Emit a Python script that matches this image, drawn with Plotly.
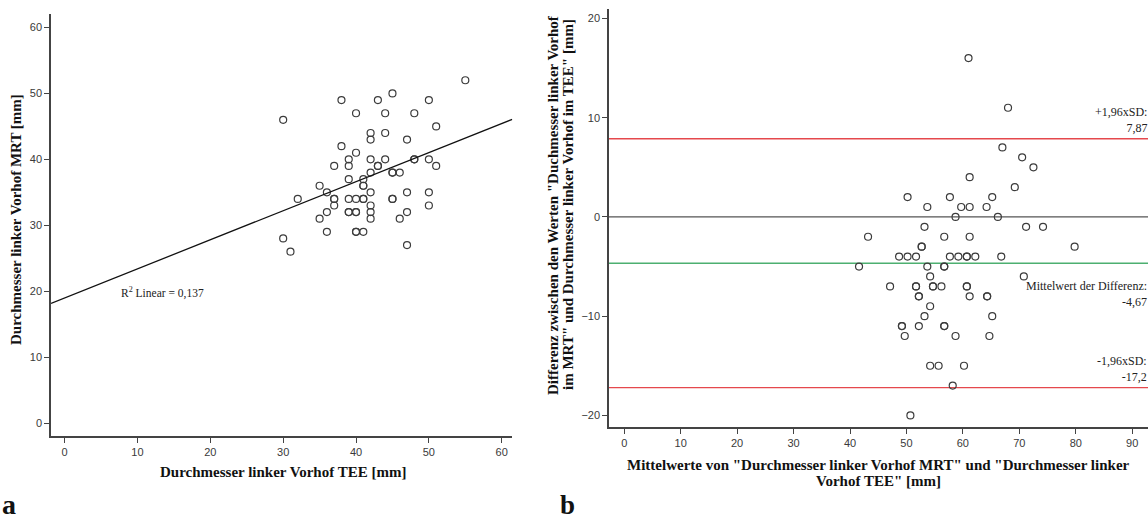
import plotly.graph_objects as go

# ---------------- data ----------------
# Panel a: TEE (x) vs MRT (y) diameters, left atrium [mm]
tee_mm = [55, 45, 38, 43, 50, 30, 40, 44, 48, 51, 42, 42, 44, 47, 38, 40, 39, 39, 37, 42,
          44, 43, 43, 48, 48, 50, 51, 39, 41, 42, 45, 45, 46, 35, 41, 41, 36, 42, 47, 50,
          32, 37, 37, 39, 40, 41, 41, 45, 45, 37, 42, 50, 36, 39, 39, 40, 40, 42, 47, 35,
          42, 46, 36, 40, 40, 41, 30, 31, 47]
mrt_mm = [52, 50, 49, 49, 49, 46, 47, 47, 47, 45, 44, 43, 44, 43, 42, 41, 40, 39, 39, 40,
          40, 39, 39, 40, 40, 40, 39, 37, 37, 38, 38, 38, 38, 36, 36, 36, 35, 35, 35, 35,
          34, 34, 34, 34, 34, 34, 34, 34, 34, 33, 33, 33, 32, 32, 32, 32, 32, 32, 32, 31,
          31, 31, 29, 29, 29, 29, 28, 26, 27]
fit_intercept = 18.98
fit_slope = 0.441
r2_text = "R<sup>2</sup> Linear = 0,137"

# Panel b: Bland-Altman (mean, difference) [mm]
ba_mean = [61, 68, 67, 70.5, 72.5, 61.2, 69.2,
           50.2, 57.7, 65.2,
           53.7, 59.7, 61.2, 64.2,
           58.7, 66.2,
           53.2, 71.2, 74.2,
           43.2, 56.7, 61.2,
           52.7, 52.7, 79.8,
           48.7, 50.2, 51.7, 57.7, 59.2, 60.7, 60.7, 62.2, 66.8,
           41.6, 53.7, 56.7, 56.7,
           54.2, 70.8,
           47.1, 51.7, 51.7, 54.7, 54.7, 56.2, 60.7, 60.7,
           52.2, 52.2, 61.2, 64.3, 64.3,
           54.2,
           53.2, 65.2,
           49.2, 49.2, 52.2, 56.7, 56.7,
           49.7, 58.7, 64.7,
           54.2, 55.7, 60.2,
           58.2,
           50.7]
ba_diff = [16, 11, 7, 6, 5, 4, 3,
           2, 2, 2,
           1, 1, 1, 1,
           0, 0,
           -1, -1, -1,
           -2, -2, -2,
           -3, -3, -3,
           -4, -4, -4, -4, -4, -4, -4, -4, -4,
           -5, -5, -5, -5,
           -6, -6,
           -7, -7, -7, -7, -7, -7, -7, -7,
           -8, -8, -8, -8, -8,
           -9,
           -10, -10,
           -11, -11, -11, -11, -11,
           -12, -12, -12,
           -15, -15, -15,
           -17,
           -20]
upper_loa = 7.87
mean_diff = -4.67
lower_loa = -17.2
upper_label = "+1,96xSD:<br>7,87"
mean_label = "Mittelwert der Differenz:<br>-4,67"
lower_label = "-1,96xSD:<br>-17,2"

title_a_x = "Durchmesser linker Vorhof TEE [mm]"
title_a_y = "Durchmesser linker Vorhof MRT [mm]"
title_b_x = ['Mittelwerte von "Durchmesser linker Vorhof MRT" und "Durchmesser linker',
             'Vorhof TEE" [mm]']
title_b_y = ['Differenz zwischen den Werten "Duchmesser linker Vorhof',
             'im MRT" und Durchmesser linker Vorhof im TEE" [mm]']

# ---------------- layout helpers ----------------
W, H = 1148, 521
def px(x):
    return x / W
def py(y):
    return 1 - y / H

SERIF = "Liberation Serif"
SANS = "Liberation Sans"
MARK = "#3c3c3c"
AX = "#444444"

xa_range = [-1.87, 61.45]
ya_range = [-1.97, 62.1]
xb_range = [-2.7, 92.8]
yb_range = [-21.2, 20.95]

fig = go.Figure()

marker = dict(symbol="circle-open", size=7, color=MARK, line=dict(width=1.2, color=MARK))

fig.add_trace(go.Scatter(x=tee_mm, y=mrt_mm, mode="markers", marker=marker,
                         xaxis="x", yaxis="y", showlegend=False, hoverinfo="skip"))
fit_x = [xa_range[0], xa_range[1]]
fit_y = [fit_intercept + fit_slope * v for v in fit_x]
fig.add_trace(go.Scatter(x=fit_x, y=fit_y, mode="lines", line=dict(color="#111111", width=1.3),
                         xaxis="x", yaxis="y", showlegend=False, hoverinfo="skip"))

# reference lines panel b
for val, col, w in [(0, "#555555", 1.4), (upper_loa, "#e5484d", 1.4),
                    (mean_diff, "#4daf70", 1.6), (lower_loa, "#e5484d", 1.4)]:
    fig.add_shape(type="line", xref="x2 domain", yref="y2", x0=0, x1=1, y0=val, y1=val,
                  line=dict(color=col, width=w), layer="below")

fig.add_trace(go.Scatter(x=ba_mean, y=ba_diff, mode="markers", marker=marker,
                         xaxis="x2", yaxis="y2", showlegend=False, hoverinfo="skip"))

axis_common = dict(showline=True, linecolor=AX, linewidth=1.5, showgrid=False, zeroline=False,
                   ticks="outside", ticklen=5, tickcolor=AX, tickwidth=1, dtick=10,
                   tickfont=dict(family=SANS, size=11, color="#3a3a3a"))

fig.update_layout(
    width=W, height=H,
    margin=dict(l=0, r=0, t=0, b=0),
    paper_bgcolor="white", plot_bgcolor="white",
    xaxis=dict(domain=[px(51), px(512.3)], range=xa_range, anchor="y", tick0=0, **axis_common),
    yaxis=dict(domain=[py(436), py(13.7)], range=ya_range, anchor="x", tick0=0, **axis_common),
    xaxis2=dict(domain=[px(609), 1.0], range=xb_range, anchor="y2", tick0=0, **axis_common),
    yaxis2=dict(domain=[py(427.3), py(9)], range=yb_range, anchor="x2", tick0=0, **axis_common),
)

ann = []
title_font = dict(family=SERIF, size=15, color="#111111")
def title(text, x, y, angle=0):
    ann.append(dict(text="<b>" + text + "</b>", xref="paper", yref="paper", x=px(x), y=py(y),
                    xanchor="center", yanchor="middle", textangle=angle, showarrow=False,
                    font=title_font))

title(title_a_x, 283, 472)
title(title_a_y, 16, 220, -90)
title(title_b_x[0], 878, 465)
title(title_b_x[1], 878, 481)
title(title_b_y[0], 553, 205, -90)
title(title_b_y[1], 568, 205, -90)

ann.append(dict(text="<b>a</b>", xref="paper", yref="paper", x=px(1), y=0, xanchor="left",
                yanchor="bottom", showarrow=False,
                font=dict(family=SERIF, size=28, color="#111111")))
ann.append(dict(text="<b>b</b>", xref="paper", yref="paper", x=px(559), y=0, xanchor="left",
                yanchor="bottom", showarrow=False,
                font=dict(family=SERIF, size=27, color="#111111")))

small = dict(family=SERIF, size=12, color="#222222")
ann.append(dict(text=r2_text, xref="x", yref="y", x=7.6, y=19.8, xanchor="left", yanchor="middle",
                showarrow=False, font=dict(family=SERIF, size=11.5, color="#222222")))
ann.append(dict(text=upper_label, xref="x2 domain", yref="y2", x=1, y=upper_loa, xanchor="right",
                yanchor="bottom", yshift=3, align="right", showarrow=False, font=small))
ann.append(dict(text=mean_label, xref="x2 domain", yref="y2", x=1, y=mean_diff, xanchor="right",
                yanchor="top", yshift=-15, align="right", showarrow=False, font=small))
ann.append(dict(text=lower_label, xref="x2 domain", yref="y2", x=1, y=lower_loa, xanchor="right",
                yanchor="bottom", yshift=3, align="right", showarrow=False, font=small))
for a in ann:
    a.setdefault("borderpad", 0)
fig.update_layout(annotations=ann)

fig.write_html("out.html", config={"displayModeBar": False},
               post_script="document.body.style.margin='0';document.body.style.overflow='hidden';")
